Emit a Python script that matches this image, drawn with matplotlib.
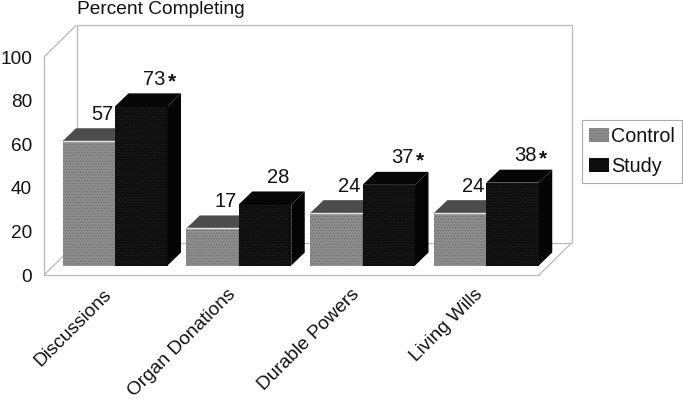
import matplotlib
matplotlib.use("Agg")
import matplotlib.pyplot as plt
from matplotlib.patches import Polygon, Patch
from matplotlib.transforms import ScaledTranslation

plt.rcParams["font.family"] = ["Liberation Sans", "DejaVu Sans"]
plt.rcParams["hatch.linewidth"] = 0.5

categories = ["Discussions", "Organ Donations", "Durable Powers", "Living Wills"]
control = [57, 17, 24, 24]
study = [73, 28, 37, 38]
stars = [True, False, True, True]
yticks = [0, 20, 40, 60, 80, 100]

W, H = 683, 400
# axes box in pixels of the image
left, right, top, bottom = 44, 539, 57, 275
xpx = (right - left) / len(categories)
ypx = (bottom - top) / 100

fig = plt.figure(figsize=(W / 100, H / 100), dpi=100)
ax = fig.add_axes([left / W, 1 - bottom / H, (right - left) / W, (bottom - top) / H])
ax.set_xlim(0, len(categories))
ax.set_ylim(0, 100)

# 3d offsets, pixels to data units
wall_x, wall_y = 32.5 / xpx, 32 / ypx
depth_x, depth_y = 13.5 / xpx, 13 / ypx
lift = 9.5 / ypx
shift = 71 / xpx - 0.5
w = 52.5 / xpx
wall_color = "#b8b8b8"


def wall_line(xs, ys):
    ax.plot(xs, ys, color=wall_color, lw=0.9, clip_on=False, zorder=1, solid_capstyle="butt")


n = len(categories)
wall_line([0, wall_x], [100, 100 + wall_y])
wall_line([wall_x, n + wall_x], [100 + wall_y, 100 + wall_y])
wall_line([wall_x, wall_x], [wall_y, 100 + wall_y])
wall_line([n + wall_x, n + wall_x], [wall_y, 100 + wall_y])
wall_line([wall_x, n + wall_x], [wall_y, wall_y])
wall_line([0, wall_x], [0, wall_y])
wall_line([n, n + wall_x], [0, wall_y])


def bar3d(x, val, face, hatch_col, top_col, side_col, z):
    ax.bar(x, val, w, bottom=lift, align="edge", color=face, edgecolor=hatch_col,
           hatch="......", linewidth=0, zorder=z)
    y1 = lift + val
    ax.add_patch(Polygon([(x, y1), (x + w, y1), (x + w + depth_x, y1 + depth_y), (x + depth_x, y1 + depth_y)],
                         closed=True, facecolor=top_col, edgecolor="none", zorder=z, clip_on=False))
    ax.add_patch(Polygon([(x + w, lift), (x + w + depth_x, lift + depth_y), (x + w + depth_x, y1 + depth_y), (x + w, y1)],
                         closed=True, facecolor=side_col, edgecolor="none", zorder=z, clip_on=False))


for i in range(n):
    x0 = i + 0.5 + shift - w
    z = 3 + i
    bar3d(x0, control[i], "#8e8e8e", "#6a6a6a", "#4c4c4c", "#555555", z)
    ax.plot([x0, x0 + w], [lift + control[i]] * 2, color="#e8e8e8", lw=1.0, zorder=z + 0.1,
            solid_capstyle="butt")
    bar3d(x0 + w, study[i], "#0e0e0e", "#222222", "#060606", "#040404", z + 0.2)

    ax.text(x0 + w - 2 / xpx, lift + control[i] + depth_y + 13.5 / ypx, str(control[i]),
            fontsize=14.5, ha="right", va="center", color="#111111")
    ax.text(x0 + w + 39.5 / xpx, lift + study[i] + depth_y + 14 / ypx, str(study[i]),
            fontsize=14.5, ha="center", va="center", color="#111111")
    if stars[i]:
        ax.text(x0 + w + 57 / xpx, lift + study[i] + depth_y + 11 / ypx, "*",
                fontsize=15, fontweight="bold", ha="center", va="center", color="#111111")

for s in ["top", "right"]:
    ax.spines[s].set_visible(False)
for s in ["left", "bottom"]:
    ax.spines[s].set_color(wall_color)
    ax.spines[s].set_linewidth(0.9)
ax.patch.set_alpha(0)

ax.set_yticks(yticks)
ax.set_yticklabels([str(t) for t in yticks], fontsize=13.7, color="#111111")
ax.tick_params(axis="y", length=0, pad=8.5)
ax.set_xticks([i + 0.5 for i in range(n)])
ax.set_xticklabels(categories, fontsize=13.8, rotation=45, ha="right", rotation_mode="anchor", color="#111111")
ax.tick_params(axis="x", length=0, pad=8)
# labels end a little left of the group centre
nudge = ScaledTranslation(-3 / 100, 0, fig.dpi_scale_trans)
for lab in ax.get_xticklabels():
    lab.set_transform(lab.get_transform() + nudge)

fig.text(77 / W, 1 - 9 / H, "Percent Completing", fontsize=13.8, ha="left", va="center", color="#111111")

handles = [Patch(facecolor="#8c8c8c", edgecolor="#6e6e6e", hatch="......", linewidth=0, label="Control"),
           Patch(facecolor="#0a0a0a", edgecolor="#222222", hatch="......", linewidth=0, label="Study")]
leg = fig.legend(handles=handles, loc="upper left", bbox_to_anchor=(582 / W, 1 - 120 / H),
                 fontsize=14.2, frameon=True, fancybox=False, edgecolor="#aaaaaa", framealpha=1,
                 borderaxespad=0, borderpad=0.35, handlelength=1.0, handleheight=0.7,
                 handletextpad=0.12, labelspacing=0.55, labelcolor="#111111")
leg.get_frame().set_linewidth(0.8)

fig.savefig("out.png", dpi=100)
